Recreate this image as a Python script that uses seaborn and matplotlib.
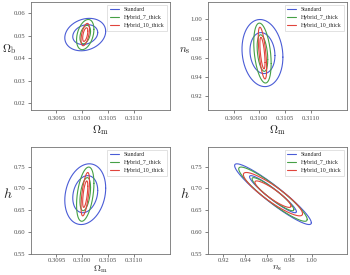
import numpy as np
import pandas as pd
import matplotlib
matplotlib.use("Agg")
import matplotlib.pyplot as plt
import seaborn as sns

# Fisher forecast contours (1 and 2 sigma) for three survey set-ups

models = ["Standard", "Hybrid_7_thick", "Hybrid_10_thick"]
colors = ["#4a5cd6", "#46a046", "#e0443c"]

# fiducial values
fid_om = 0.31006
fid_ob = 0.0505
fid_ns = 0.965
fid_h = 0.687

# marginalised errors per model
sig_om = [0.000160, 0.000068, 0.000033]
sig_ob = [0.0029, 0.0027, 0.0020]
sig_ns = [0.0140, 0.0125, 0.0108]
sig_h = [0.028, 0.025, 0.020]

# correlation coefficients per panel and model
rho_om_ob = [0.2, 0.35, 0.5]
rho_om_ns = [-0.12, -0.35, -0.6]
rho_om_h = [0.2, 0.4, 0.6]
rho_ns_h = [-0.94, -0.93, -0.90]

# delta chi2 for 68% and 95% in 2D
levels = [2.30, 6.17]

om_ticks = [0.3095, 0.3100, 0.3105, 0.3110]
ns_ticks = [0.92, 0.94, 0.96, 0.98, 1.00]


def ellipse_frame(cx, cy, sx, sy, rho):
    t = np.linspace(0, 2 * np.pi, 300)
    cov = np.array([[sx**2, rho * sx * sy], [rho * sx * sy, sy**2]])
    L = np.linalg.cholesky(cov)
    rows = []
    for k, lev in enumerate(levels):
        pts = L @ np.vstack([np.cos(t), np.sin(t)]) * np.sqrt(lev)
        rows.append(pd.DataFrame({"x": cx + pts[0], "y": cy + pts[1], "level": k}))
    return rows


sns.set_theme(style="ticks")
plt.rcParams["font.family"] = ["Liberation Serif", "DejaVu Serif"]
plt.rcParams["mathtext.fontset"] = "cm"
plt.rcParams["axes.edgecolor"] = "0.45"
plt.rcParams["axes.linewidth"] = 0.6
plt.rcParams["xtick.color"] = "0.3"
plt.rcParams["ytick.color"] = "0.3"

fig = plt.figure(figsize=(3.5, 2.75), dpi=100)
ax1 = fig.add_axes([0.0877, 0.600, 0.397, 0.393])
ax2 = fig.add_axes([0.594, 0.600, 0.397, 0.393])
ax3 = fig.add_axes([0.0877, 0.0764, 0.397, 0.389])
ax4 = fig.add_axes([0.594, 0.0764, 0.397, 0.389])

panels = [
    (ax1, fid_om, fid_ob, sig_om, sig_ob, rho_om_ob),
    (ax2, fid_om, fid_ns, sig_om, sig_ns, rho_om_ns),
    (ax3, fid_om, fid_h, sig_om, sig_h, rho_om_h),
    (ax4, fid_ns, fid_h, sig_ns, sig_h, rho_ns_h),
]

for ax, cx, cy, sx, sy, rho in panels:
    for i, m in enumerate(models):
        frames = ellipse_frame(cx, cy, sx[i], sy[i], rho[i])
        for k, df in enumerate(frames):
            sns.lineplot(data=df, x="x", y="y", sort=False, estimator=None,
                         color=colors[i], lw=0.8, ax=ax,
                         label=m if k == 0 else None)
    leg = ax.legend(loc="upper right", fontsize=4.2, handlelength=1.6,
                    frameon=True, borderpad=0.4, labelspacing=0.5,
                    fancybox=False, edgecolor="0.8")
    leg.get_frame().set_linewidth(0.5)
    ax.tick_params(labelsize=4.8, length=2, width=0.5, pad=2)

for ax in (ax1, ax2):
    ax.set_xlim(0.3090, 0.3117)
    ax.set_xticks(om_ticks)
    ax.set_xticklabels([f"{v:.4f}" for v in om_ticks])
    ax.set_xlabel(r"$\Omega_{\rm m}$", fontsize=8, labelpad=2)

ax3.set_xlim(0.3090, 0.3117)
ax3.set_xticks(om_ticks)
ax3.set_xticklabels([f"{v:.4f}" for v in om_ticks])
ax3.set_xlabel(r"$\Omega_{\rm m}$", fontsize=7, labelpad=0)

ax4.set_xlim(0.906, 1.032)
ax4.set_xticks(ns_ticks)
ax4.set_xticklabels([f"{v:.2f}" for v in ns_ticks])
ax4.set_xlabel(r"$n_{\rm s}$", fontsize=7, labelpad=0)

for ax in (ax3, ax4):
    ax.tick_params(axis="x", pad=1)

ax1.set_ylim(0.017, 0.065)
ax1.set_yticks([0.02, 0.03, 0.04, 0.05, 0.06])
ax1.set_ylabel(r"$\Omega_{\rm b}$", fontsize=8, rotation=0, labelpad=3)

ax2.set_ylim(0.906, 1.018)
ax2.set_yticks([0.92, 0.94, 0.96, 0.98, 1.00])
ax2.set_yticklabels(["0.92", "0.94", "0.96", "0.98", "1.00"])
ax2.set_ylabel(r"$n_{\rm s}$", fontsize=8, rotation=0, labelpad=4)

for ax in (ax3, ax4):
    ax.set_ylim(0.55, 0.795)
    ax.set_yticks([0.55, 0.60, 0.65, 0.70, 0.75])
    ax.set_yticklabels(["0.55", "0.60", "0.65", "0.70", "0.75"])
    ax.set_ylabel(r"$h$", fontsize=10, rotation=0, labelpad=4)

fig.savefig("out.png", dpi=100)
